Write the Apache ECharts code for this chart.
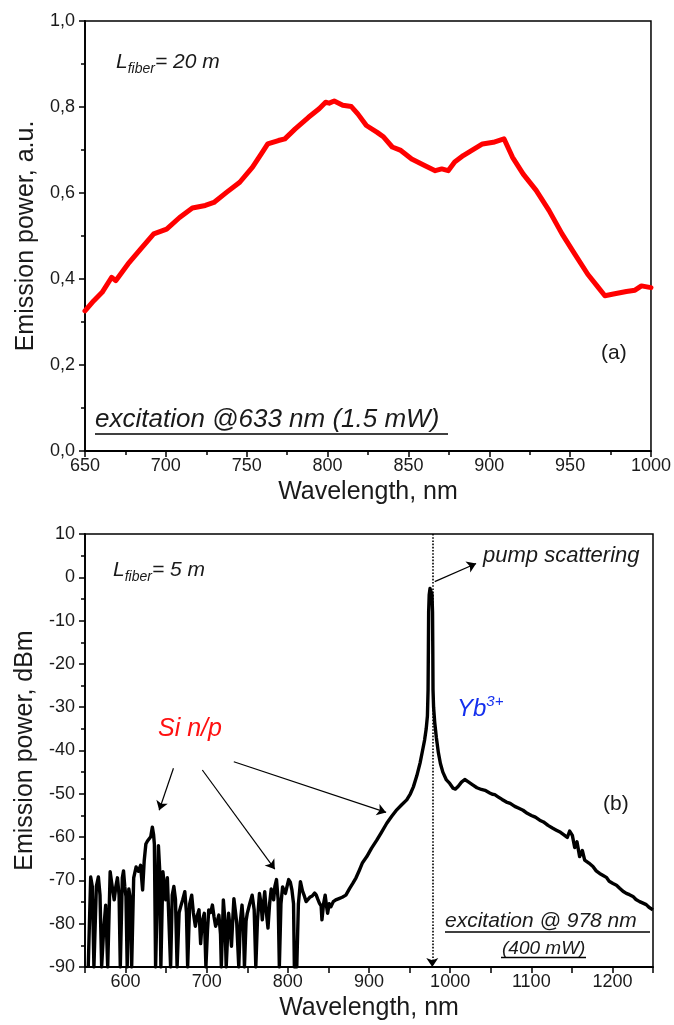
<!DOCTYPE html>
<html>
<head>
<meta charset="utf-8">
<script src="https://cdn.jsdelivr.net/npm/echarts@6/dist/echarts.min.js"></script>
<style>
  html, body { margin: 0; padding: 0; background: #fff; }
  #chart { width: 674px; height: 1025px; }
</style>
</head>
<body>
<div id="chart"></div>
<script>
// ---------- (a) visible-range emission, 633 nm excitation ----------
const topWavelength = [650, 655.3, 660.6, 666.5, 669, 676.6, 684.5, 692.5, 700.5, 708.5, 716.4, 724.4, 729.7, 737.7, 745.7, 753.6, 759, 763, 769.6, 773.6, 780, 788.2, 794.8, 798.8, 801, 804.1, 809.4, 814.7, 818.7, 824, 830.7, 834.7, 840, 845.3, 852, 860, 866.6, 870.6, 874.6, 878.6, 883.9, 889.2, 895.8, 902.5, 909.1, 914.4, 921, 929, 937, 945, 952.9, 960.9, 967.5, 971.5, 976.8, 984.8, 990.1, 994.1, 1000];
const topPower = [0.326, 0.349, 0.369, 0.404, 0.396, 0.435, 0.470, 0.505, 0.516, 0.543, 0.565, 0.571, 0.578, 0.602, 0.625, 0.660, 0.691, 0.714, 0.722, 0.726, 0.749, 0.776, 0.796, 0.811, 0.809, 0.814, 0.804, 0.801, 0.784, 0.757, 0.741, 0.730, 0.707, 0.699, 0.679, 0.664, 0.652, 0.656, 0.652, 0.672, 0.687, 0.699, 0.714, 0.718, 0.726, 0.683, 0.644, 0.606, 0.559, 0.505, 0.458, 0.411, 0.380, 0.361, 0.365, 0.371, 0.374, 0.384, 0.380];

// ---------- (b) spectrum, 978 nm excitation (dBm) ----------
const botWavelength = [554, 557, 559, 561, 564, 566.5, 568.5, 570.5, 573, 575.5, 578, 581, 583.5, 586, 588, 590, 592, 593.5, 596, 597.5, 599, 600.5, 602, 604, 606, 607.5, 610, 613, 616, 618.5, 621, 623, 625, 627, 629, 631, 633, 634.5, 635.5, 637, 638.5, 640.5, 642, 643.5, 646, 648, 649.5, 651.5, 653, 655.5, 657.5, 659.5, 661.5, 663.5, 666, 668, 670.5, 673, 675, 676.5, 679, 681.5, 683.5, 686, 688, 690.5, 692.5, 694.5, 697, 699, 701, 702.5, 705, 707, 709, 711, 713, 715, 717, 718, 720.5, 722.5, 724, 727, 729, 730.5, 732, 733.5, 735.5, 737, 739.5, 741.5, 743.5, 745, 746.5, 748.5, 750, 753, 756, 758.5, 760.5, 762.5, 765, 767, 768.5, 770, 771.5, 773.5, 775.5, 777.5, 779.5, 781.5, 782.5, 784, 786, 788, 789.5, 791.5, 793.5, 795.5, 797, 799, 801, 803, 805, 807, 808, 811, 813, 815.5, 818, 820.5, 822.5, 824.5, 827, 830, 833, 835, 837, 839, 841, 842, 844, 846, 848, 849, 851, 853, 856, 859, 863, 867, 871.5, 876, 880, 884, 888, 892, 897.3, 903, 909.6, 915, 921.9, 928, 934.2, 940, 946.5, 951, 954.7, 959, 962.9, 966, 968.5, 970.5, 972, 972.8, 973.2, 973.5, 974.2, 975.2, 976.5, 977.6, 978.3, 978.6, 978.9, 979.6, 981, 983, 985.5, 988, 991, 995.4, 999.5, 1003.6, 1006.5, 1009.8, 1014, 1018, 1022, 1028.2, 1033, 1038.5, 1043, 1048.8, 1052, 1055, 1059, 1064, 1069.3, 1074, 1079.6, 1084, 1089.8, 1095, 1100.1, 1105, 1110.4, 1115, 1120.6, 1126, 1130.9, 1136, 1141.1, 1144.4, 1147.3, 1150.6, 1153.5, 1156.3, 1159.6, 1162.9, 1165.8, 1171, 1176, 1180, 1184.2, 1188, 1192.5, 1196, 1200.7, 1205, 1208.9, 1213, 1217.1, 1221, 1225.3, 1229, 1233.5, 1237, 1241.7, 1245, 1249.9];
const botPower = [-90, -69.2, -71.4, -90, -71.4, -69.2, -73.4, -90, -81.4, -75.7, -90, -68, -71.4, -74.5, -71.4, -69.4, -73.4, -90, -69.4, -67.8, -71.4, -73.7, -90, -72, -74.4, -90, -69.4, -66.9, -67.9, -66.5, -72.2, -65.4, -61.6, -60.9, -61.2, -59.9, -57.7, -59.4, -61.6, -90, -90, -62, -67.4, -90, -68, -71.4, -74.5, -69.4, -69.2, -90, -73.4, -71.4, -74.4, -90, -77.4, -76, -74.4, -72.6, -77.4, -90, -75.4, -73.4, -77.4, -80.6, -78.4, -76.8, -84.6, -79.4, -77.6, -90, -81.4, -76.8, -77.4, -75.7, -78.4, -80.6, -79.4, -78, -82.4, -90, -74.5, -79.4, -90, -77.6, -81.4, -85.2, -79.4, -74.2, -77.4, -79.9, -90, -79.4, -75.7, -79.4, -90, -79.4, -77.6, -75.4, -73.4, -76.8, -90, -79.4, -73, -75.4, -79.1, -75.4, -72.6, -77.4, -81, -75.4, -72, -73.4, -74.5, -71.4, -69.8, -74.4, -90, -75.4, -71.5, -72.4, -73, -71.4, -69.8, -70.4, -72.2, -75.4, -90, -90, -75.4, -70.3, -72.4, -73.7, -74.9, -75.3, -73.9, -73.6, -72.9, -73.4, -74.4, -75.3, -75.9, -79.1, -75.4, -73.4, -76.4, -77.6, -75.4, -76.1, -74.9, -74.5, -74.2, -73.9, -73.4, -71.9, -70.7, -69.4, -67.7, -65.9, -64.5, -62.6, -60.7, -59, -56.8, -55.2, -53.7, -52.6, -51.4, -50, -48.4, -45.8, -42.9, -40, -37.6, -35, -32, -26, -16, -8, -4, -2.6, -2.6, -4, -8, -16, -26, -30, -33.5, -37, -40.5, -43, -45, -46.8, -47.6, -48.7, -48.9, -48.3, -47.3, -46.7, -47.2, -48, -48.6, -49, -49.2, -49.8, -50.1, -50.2, -50.7, -51.3, -51.9, -52.2, -52.9, -53.3, -53.8, -54.5, -55, -55.4, -56.1, -56.5, -57.3, -57.9, -58.4, -58.9, -59.6, -60.1, -58.6, -59.6, -62.4, -61.1, -64.5, -63.1, -65.3, -66, -66.8, -67.8, -68.4, -68.8, -69.3, -70.2, -70.7, -71.1, -71.8, -72.5, -73, -73.3, -73.7, -74.4, -74.9, -75.2, -75.6, -76.2, -76.8];

// axis tick definitions
const topXTicks = { min: 650, max: 1000, step: 50 };
const topYTicks = { min: 0, max: 1, step: 0.2 };
const botXTicks = { min: 550, max: 1250, step: 50, labelEvery: 100 };
const botYTicks = { min: -90, max: 10, step: 10 };

const topData = topWavelength.map((w, i) => [w, topPower[i]]);
const botData = botWavelength.map((w, i) => [w, botPower[i]]);

const FONT = '"Liberation Sans", Arial, sans-serif';
const TXT = '#1a1a1a';

function axisCommon() {
  return {
    axisLine: { show: true, onZero: false, lineStyle: { color: '#000', width: 1.8 } },
    axisTick: { show: true, inside: false, length: 6, lineStyle: { color: '#000', width: 1.5 } },
    minorTick: { show: true, splitNumber: 2, length: 4, lineStyle: { color: '#000', width: 1.5 } },
    splitLine: { show: false },
    minorSplitLine: { show: false },
    axisLabel: { color: TXT, fontSize: 18, fontFamily: FONT },
    nameTextStyle: { color: TXT, fontSize: 25, fontFamily: FONT },
    nameLocation: 'middle'
  };
}

const chart = echarts.init(document.getElementById('chart'), null, { renderer: 'canvas' });

const option = {
  animation: false,
  backgroundColor: '#fff',
  grid: [
    { left: 85, top: 21, width: 568, height: 430, show: true, borderColor: '#000', borderWidth: 1.5, backgroundColor: 'transparent' },
    { left: 85, top: 534, width: 568, height: 433, show: true, borderColor: '#000', borderWidth: 1.5, backgroundColor: 'transparent' }
  ],
  xAxis: [
    Object.assign(axisCommon(), {
      type: 'value', gridIndex: 0, min: topXTicks.min, max: topXTicks.max, interval: topXTicks.step,
      name: 'Wavelength, nm', nameGap: 29,
      axisLabel: { color: TXT, fontSize: 18, fontFamily: FONT, margin: 6, formatter: v => String(v) }
    }),
    Object.assign(axisCommon(), {
      type: 'value', gridIndex: 1, min: botXTicks.min, max: botXTicks.max, interval: botXTicks.step,
      name: 'Wavelength, nm', nameGap: 29,
      minorTick: { show: false },
      axisLabel: {
        color: TXT, fontSize: 18, fontFamily: FONT, margin: 6,
        formatter: v => (v % botXTicks.labelEvery === 0 ? String(v) : '')
      }
    })
  ],
  yAxis: [
    Object.assign(axisCommon(), {
      type: 'value', gridIndex: 0, min: topYTicks.min, max: topYTicks.max, interval: topYTicks.step,
      name: 'Emission power, a.u.', nameGap: 46,
      axisLabel: {
        color: TXT, fontSize: 18, fontFamily: FONT, margin: 10,
        formatter: v => v.toFixed(1).replace('.', ',')
      }
    }),
    Object.assign(axisCommon(), {
      type: 'value', gridIndex: 1, min: botYTicks.min, max: botYTicks.max, interval: botYTicks.step,
      name: 'Emission power, dBm', nameGap: 46,
      axisLabel: { color: TXT, fontSize: 18, fontFamily: FONT, margin: 10, formatter: v => String(v) }
    })
  ],
  series: [
    {
      type: 'line', xAxisIndex: 0, yAxisIndex: 0, data: topData,
      showSymbol: false, symbol: 'none', clip: true,
      lineStyle: { color: '#ff0000', width: 5, join: 'round', cap: 'round' }
    },
    {
      type: 'line', xAxisIndex: 1, yAxisIndex: 1, data: botData,
      showSymbol: false, symbol: 'none', clip: true,
      lineStyle: { color: '#000', width: 3.4, join: 'round' },
      markLine: {
        silent: true, animation: false,
        symbol: ['none', 'arrow'], symbolSize: 9,
        label: { show: false },
        lineStyle: { color: '#000', width: 1.2, type: 'solid' },
        data: [
          [{ coord: [978, 10], lineStyle: { type: 'dotted', width: 1.6, color: '#000' } }, { coord: [978, -90] }],
          [{ coord: [981, -1] }, { coord: [1032, 3.2] }],
          [{ coord: [659, -44.1] }, { coord: [641.4, -53.8] }],
          [{ coord: [694.6, -44.5] }, { coord: [783.9, -67.4] }],
          [{ coord: [733.4, -42.6] }, { coord: [921.1, -54.3] }]
        ]
      }
    }
  ],
  graphic: [
    // (a) annotations
    {
      type: 'text', left: 116, top: 52, z: 10,
      style: {
        text: '{m|L}{s|fiber}{m|= 20 m}',
        rich: {
          m: { fontSize: 21, fontStyle: 'italic', fontFamily: FONT, fill: TXT, lineHeight: 28 },
          s: { fontSize: 14, fontStyle: 'italic', fontFamily: FONT, fill: TXT, lineHeight: 14, verticalAlign: 'bottom' }
        }
      }
    },
    {
      type: 'text', left: 601, top: 343, z: 10,
      style: { text: '(a)', fontSize: 21, fontFamily: FONT, fill: TXT }
    },
    {
      type: 'text', left: 95, top: 407, z: 10,
      style: { text: 'excitation @633 nm (1.5 mW)', fontSize: 26, fontStyle: 'italic', fontFamily: FONT, fill: TXT }
    },
    { type: 'line', z: 10, shape: { x1: 95, y1: 434, x2: 448, y2: 434 }, style: { stroke: '#000', lineWidth: 1.5 } },

    // (b) annotations
    {
      type: 'text', left: 113, top: 560, z: 10,
      style: {
        text: '{m|L}{s|fiber}{m|= 5 m}',
        rich: {
          m: { fontSize: 21, fontStyle: 'italic', fontFamily: FONT, fill: TXT, lineHeight: 28 },
          s: { fontSize: 14, fontStyle: 'italic', fontFamily: FONT, fill: TXT, lineHeight: 14, verticalAlign: 'bottom' }
        }
      }
    },
    {
      type: 'text', left: 483, top: 545, z: 10,
      style: { text: 'pump scattering', fontSize: 22, fontStyle: 'italic', fontFamily: FONT, fill: TXT }
    },
    {
      type: 'text', left: 457, top: 694, z: 10,
      style: {
        text: '{m|Yb}{s|3+}',
        rich: {
          m: { fontSize: 24, fontStyle: 'italic', fontFamily: FONT, fill: '#1530ee', lineHeight: 30 },
          s: { fontSize: 15, fontStyle: 'italic', fontFamily: FONT, fill: '#1530ee', lineHeight: 16, verticalAlign: 'top' }
        }
      }
    },
    {
      type: 'text', left: 158, top: 717, z: 10,
      style: { text: 'Si n/p', fontSize: 25, fontStyle: 'italic', fontFamily: FONT, fill: '#ff1010' }
    },
    {
      type: 'text', left: 603, top: 794, z: 10,
      style: { text: '(b)', fontSize: 21, fontFamily: FONT, fill: TXT }
    },
    {
      type: 'text', left: 445, top: 911, z: 10,
      style: { text: 'excitation @ 978 nm', fontSize: 21, fontStyle: 'italic', fontFamily: FONT, fill: TXT }
    },
    { type: 'line', z: 10, shape: { x1: 445, y1: 932, x2: 650, y2: 932 }, style: { stroke: '#000', lineWidth: 1.5 } },
    {
      type: 'text', left: 502, top: 939, z: 10,
      style: { text: '(400 mW)', fontSize: 19, fontStyle: 'italic', fontFamily: FONT, fill: TXT }
    },
    { type: 'line', z: 10, shape: { x1: 501, y1: 957.5, x2: 586, y2: 957.5 }, style: { stroke: '#000', lineWidth: 1.5 } }
  ]
};

chart.setOption(option);
</script>
</body>
</html>
